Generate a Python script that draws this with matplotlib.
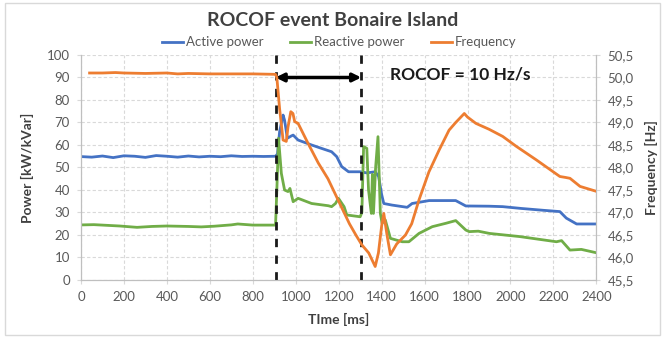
import matplotlib
matplotlib.use('Agg')
import matplotlib.pyplot as plt
from matplotlib.patches import Rectangle
from matplotlib.ticker import FuncFormatter, MultipleLocator

plt.rcParams['font.family'] = ['Lato', 'DejaVu Sans']

# ── data ──
time_active = [10, 50, 100, 150, 200, 250, 300, 350, 400, 450, 500, 550, 600, 650, 700, 750,
               800, 850, 906, 915, 925, 941, 948, 961, 979, 988, 1011, 1074, 1120, 1167, 1191,
               1214, 1246, 1300, 1331, 1370, 1386, 1400, 1410, 1448, 1519, 1542, 1621, 1745,
               1792, 1900, 1964, 2050, 2150, 2230, 2260, 2308, 2400]
active_power = [54.8, 54.6, 55.1, 54.4, 55.2, 55.0, 54.5, 55.3, 55.0, 54.6, 55.1, 54.7, 55.0,
                54.8, 55.2, 54.9, 55.0, 54.9, 55.0, 56.0, 66.0, 73.3, 71.0, 63.0, 64.0, 64.4,
                62.2, 60.0, 58.5, 57.0, 54.8, 50.4, 48.1, 48.1, 47.6, 48.1, 46.0, 38.0, 34.0,
                33.3, 32.3, 34.0, 35.3, 35.3, 32.9, 32.8, 32.6, 31.8, 31.0, 30.4, 27.5, 24.9, 24.9]

time_reactive = [10, 60, 120, 180, 261, 330, 400, 500, 560, 620, 700, 730, 800, 906, 912, 920,
                 933, 948, 964, 973, 988, 1011, 1074, 1152, 1167, 1185, 1199, 1215, 1225, 1238,
                 1300, 1308, 1316, 1331, 1339, 1352, 1357, 1362, 1372, 1383, 1394, 1402, 1417,
                 1441, 1496, 1527, 1574, 1636, 1699, 1745, 1792, 1808, 1850, 1902, 2043, 2214,
                 2238, 2277, 2330, 2400]
reactive_power = [24.5, 24.6, 24.3, 24.0, 23.4, 23.8, 24.0, 23.8, 23.6, 23.9, 24.5, 24.9, 24.4,
                  24.4, 40.0, 63.0, 47.4, 40.0, 39.3, 40.7, 34.8, 36.3, 34.0, 33.0, 32.6, 34.0,
                  36.3, 34.0, 32.6, 28.9, 28.1, 30.0, 59.3, 58.5, 40.0, 29.6, 47.0, 29.6, 50.0,
                  63.7, 29.6, 25.2, 26.7, 18.5, 17.0, 17.0, 20.7, 23.7, 25.2, 26.4, 22.2, 21.5,
                  21.7, 20.7, 19.3, 17.0, 17.5, 13.3, 13.6, 12.1]

time_freq = [40, 100, 160, 200, 300, 400, 450, 500, 600, 700, 800, 906, 912, 925, 941, 956,
             964, 977, 987, 995, 1011, 1058, 1105, 1150, 1200, 1250, 1280, 1308, 1340, 1360,
             1370, 1385, 1400, 1410, 1425, 1441, 1470, 1511, 1540, 1574, 1620, 1668, 1714,
             1745, 1785, 1800, 1839, 1900, 1964, 2027, 2120, 2230, 2255, 2277, 2324, 2400]
frequency = [50.10, 50.10, 50.11, 50.10, 50.09, 50.10, 50.08, 50.09, 50.08, 50.08, 50.08,
             50.07, 50.00, 49.30, 48.61, 48.58, 48.90, 49.24, 49.20, 49.02, 48.98, 48.53,
             48.10, 47.75, 47.25, 46.75, 46.50, 46.28, 46.10, 45.90, 45.80, 46.10, 46.70,
             46.98, 46.50, 46.06, 46.30, 46.50, 46.75, 47.28, 47.90, 48.39, 48.83, 49.00,
             49.20, 49.12, 48.98, 48.85, 48.69, 48.47, 48.17, 47.80, 47.78, 47.76, 47.58, 47.47]

event_start, event_end = 906, 1305
arrow_level = 90

BLUE, GREEN, ORANGE = '#4472C4', '#70AD47', '#ED7D31'
GREY_TXT = '#595959'
GRID = '#D9D9D9'

fig = plt.figure(figsize=(6.65, 3.38), dpi=100)
fig.patches.append(Rectangle((0.008, 0.01), 0.985, 0.98, transform=fig.transFigure,
                             fill=False, edgecolor='#D9D9D9', linewidth=1))
ax = fig.add_axes([0.1218, 0.1716, 0.775, 0.6657])
ax2 = ax.twinx()

l1, = ax.plot(time_active, active_power, color=BLUE, lw=2, label='Active power')
l2, = ax.plot(time_reactive, reactive_power, color=GREEN, lw=2, label='Reactive power')
l3, = ax2.plot(time_freq, frequency, color=ORANGE, lw=2, label='Frequency')

for xv in (event_start, event_end):
    ax.axvline(xv, color='#1a1a1a', lw=2, ls=(0, (3, 3)), zorder=5)
ax.annotate('', xy=(event_start, arrow_level), xytext=(event_end, arrow_level),
            arrowprops=dict(arrowstyle='<|-|>', color='black', lw=2.5,
                            mutation_scale=12, shrinkA=0, shrinkB=0), zorder=6)
ax.text(1765, 91.5, 'ROCOF = 10 Hz/s', ha='center', va='center', fontsize=12.5,
        fontweight='bold', color='#1a1a1a')

ax.set_xlim(0, 2400)
ax.set_ylim(0, 100)
ax2.set_ylim(45.5, 50.5)
ax.xaxis.set_major_locator(MultipleLocator(200))
ax.yaxis.set_major_locator(MultipleLocator(10))
ax2.yaxis.set_major_locator(MultipleLocator(0.5))
ax2.yaxis.set_major_formatter(FuncFormatter(lambda v, p: f'{v:.1f}'.replace('.', ',')))

ax.grid(True, color=GRID, ls=(0, (3, 2)), lw=0.8)
ax.set_axisbelow(True)
for a in (ax, ax2):
    a.tick_params(labelsize=9.5, colors=GREY_TXT, length=3, color=GRID, pad=5)
    a.spines['top'].set_visible(False)
    for side in ('left', 'right', 'bottom'):
        a.spines[side].set_color('#BFBFBF')

ax.set_xlabel('TIme [ms]', fontsize=10, fontweight='bold', color='#404040', labelpad=7)
ax.set_ylabel('Power [kW/kVar]', fontsize=10, fontweight='bold', color='#404040', labelpad=9)
ax2.set_ylabel('Frequency [Hz]', fontsize=10, fontweight='bold', color='#404040', labelpad=8)

fig.suptitle('ROCOF event Bonaire Island', x=0.5, y=0.965, fontsize=14,
             fontweight='bold', color='#404040')
fig.legend(handles=[l1, l2, l3], loc='center', bbox_to_anchor=(0.51, 0.875), ncol=3,
           frameon=False, fontsize=9.5, handlelength=1.6, handletextpad=0.2,
           columnspacing=2.0, labelcolor=GREY_TXT)

fig.savefig('out.png', dpi=100)
